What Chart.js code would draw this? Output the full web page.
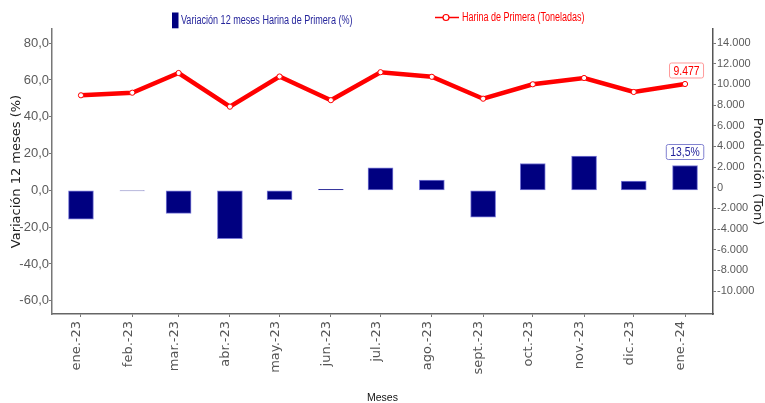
<!DOCTYPE html>
<html>
<head>
<meta charset="utf-8">
<script src="https://cdn.jsdelivr.net/npm/chart.js@4"></script>
<style>
  html, body { margin: 0; padding: 0; background: #fff; }
  #wrap { width: 765px; height: 403px; }
</style>
</head>
<body>
<div id="wrap"><canvas id="chart" width="765" height="403"></canvas></div>
<script>
// Data
const monthLabels = ['ene.-23', 'feb.-23', 'mar.-23', 'abr.-23', 'may.-23', 'jun.-23', 'jul.-23',
                     'ago.-23', 'sept.-23', 'oct.-23', 'nov.-23', 'dic.-23', 'ene.-24'];
const monthDates = ['2023-01-01', '2023-02-01', '2023-03-01', '2023-04-01', '2023-05-01', '2023-06-01',
                    '2023-07-01', '2023-08-01', '2023-09-01', '2023-10-01', '2023-11-01', '2023-12-01',
                    '2024-01-01'];
const variacion = [-15.7, -0.2, -12.5, -26.2, -5.1, 0.5, 12.3, 5.6, -14.6, 14.6, 18.6, 5.0, 13.5];
const produccion = [8383, 8634, 10542, 7280, 10203, 7908, 10619, 10174, 8054, 9448, 10058, 8702, 9477];
const leftTicks = [-60, -40, -20, 0, 20, 40, 60, 80];
const rightTicks = [-10000, -8000, -6000, -4000, -2000, 0, 2000, 4000, 6000, 8000, 10000, 12000, 14000];

const SANS = "'Liberation Sans', Arial, sans-serif";
const NAVY = '#000080';
const RED = '#ff0000';

// days since the first month, so months sit like on a date axis
const dayOf = d => (Date.parse(d) - Date.parse(monthDates[0])) / 86400000;
const xDays = monthDates.map(dayOf);

function thousands(v) {
    const s = String(Math.abs(v)).replace(/\B(?=(\d{3})+(?!\d))/g, '.');
    return (v < 0 ? '-' : '') + s;
}

// narrow-looking text: squeeze Liberation Sans horizontally
function narrowText(ctx, text, x, y, size, color, align, squeeze) {
    ctx.save();
    ctx.font = size + 'px ' + SANS;
    ctx.fillStyle = color;
    ctx.textBaseline = 'middle';
    ctx.textAlign = align || 'left';
    ctx.translate(x, y);
    ctx.scale(squeeze || 0.82, 1);
    ctx.fillText(text, 0, 0);
    ctx.restore();
}

// Legend and value boxes drawn on top
const extrasPlugin = {
    id: 'extras',
    afterDraw(chart) {
        const ctx = chart.ctx;
        ctx.save();

        // legend
        ctx.fillStyle = NAVY;
        ctx.fillRect(172, 12.5, 6.5, 15.8);
        narrowText(ctx, 'Variación 12 meses Harina de Primera (%)', 181, 21, 12, '#26269c', 'left', 0.755);

        ctx.strokeStyle = RED;
        ctx.lineWidth = 1.5;
        ctx.beginPath();
        ctx.moveTo(435, 17.5);
        ctx.lineTo(459, 17.5);
        ctx.stroke();
        ctx.beginPath();
        ctx.arc(446, 17.5, 3, 0, Math.PI * 2);
        ctx.fillStyle = '#fff';
        ctx.fill();
        ctx.lineWidth = 1.2;
        ctx.stroke();
        narrowText(ctx, 'Harina de Primera (Toneladas)', 462, 17.5, 12, RED, 'left', 0.75);

        // value labels on the last month
        const last = monthLabels.length - 1;
        const barEl = chart.getDatasetMeta(0).data[last];
        const ptEl = chart.getDatasetMeta(1).data[last];
        drawBox(ctx, thousands(produccion[last]), ptEl.x + 1.5, ptEl.y - 6, RED, '#ff9a9a');
        drawBox(ctx, variacion[last].toFixed(1).replace('.', ',') + '%', barEl.x, barEl.y - 6, '#22229a', '#8080d0');

        ctx.restore();
    }
};

function drawBox(ctx, text, cx, bottom, color, border) {
    ctx.font = '13px ' + SANS;
    const w = ctx.measureText(text).width * 0.8 + 8;
    const h = 15;
    const x = cx - w / 2;
    const y = bottom - h;
    ctx.beginPath();
    ctx.roundRect(x, y, w, h, 2);
    ctx.fillStyle = '#fff';
    ctx.fill();
    ctx.strokeStyle = border;
    ctx.lineWidth = 1;
    ctx.stroke();
    narrowText(ctx, text, cx, y + h / 2 + 0.5, 13, color, 'center', 0.8);
}

const ctx = document.getElementById('chart').getContext('2d');
new Chart(ctx, {
    type: 'bar',
    data: {
        datasets: [
            {
                type: 'bar',
                label: 'Variación 12 meses Harina de Primera (%)',
                data: xDays.map((x, i) => ({ x, y: variacion[i] })),
                backgroundColor: NAVY,
                borderColor: '#7a7ad6',
                borderWidth: 1,
                borderSkipped: false,
                barThickness: 25,
                yAxisID: 'y',
                order: 2
            },
            {
                type: 'line',
                label: 'Harina de Primera (Toneladas)',
                data: xDays.map((x, i) => ({ x, y: produccion[i] })),
                borderColor: RED,
                borderWidth: 4.5,
                pointRadius: 2.6,
                pointBackgroundColor: '#fff',
                pointBorderColor: RED,
                pointBorderWidth: 1,
                tension: 0,
                yAxisID: 'yLine',
                order: 1
            }
        ]
    },
    options: {
        responsive: false,
        animation: false,
        layout: { padding: { top: 29, left: 0, right: 0, bottom: 0 } },
        plugins: {
            legend: { display: false },
            tooltip: { enabled: false }
        },
        scales: {
            x: {
                type: 'linear',
                min: -17.5,
                max: 381.9,
                offset: false,
                afterBuildTicks: scale => { scale.ticks = xDays.map(v => ({ value: v })); },
                afterFit: scale => { scale.height = 89; },
                grid: { display: true, offset: false, drawOnChartArea: false, tickLength: 3, color: '#777' },
                border: { color: '#666', width: 1.5 },
                ticks: {
                    autoSkip: false,
                    minRotation: 90,
                    maxRotation: 90,
                    padding: 4,
                    labelOffset: -4,
                    color: '#555',
                    font: { family: "'DejaVu Sans'", size: 13 },
                    callback: (v, i) => monthLabels[i]
                },
                title: {
                    display: true,
                    text: 'Meses',
                    color: '#111',
                    padding: 0,
                    font: { family: SANS, size: 10.5, lineHeight: 1 }
                }
            },
            y: {
                position: 'left',
                min: -67.2,
                max: 87.7,
                afterBuildTicks: scale => { scale.ticks = leftTicks.map(v => ({ value: v })); },
                afterFit: scale => { scale.width = 52; },
                grid: { display: true, drawOnChartArea: false, tickLength: 3, color: '#777' },
                border: { color: '#777', width: 1.5 },
                ticks: {
                    padding: 0,
                    color: '#5a5a5a',
                    font: { family: SANS, size: 13 },
                    callback: v => v.toFixed(1).replace('.', ',')
                },
                title: {
                    display: true,
                    text: 'Variación 12 meses (%)',
                    color: '#222',
                    padding: { top: 9, bottom: 0 },
                    font: { family: "'DejaVu Sans'", size: 13 }
                }
            },
            yRight: {
                position: 'right',
                min: -12226,
                max: 15363,
                afterBuildTicks: scale => { scale.ticks = rightTicks.map(v => ({ value: v })); },
                afterFit: scale => { scale.width = 52; },
                grid: { display: true, drawOnChartArea: false, tickLength: 3, color: '#777' },
                border: { color: '#555', width: 1.5 },
                ticks: {
                    padding: 1,
                    color: '#5a5a5a',
                    font: { family: SANS, size: 11 },
                    callback: v => thousands(v)
                },
                title: {
                    display: true,
                    text: 'Producción (Ton)',
                    color: '#222',
                    padding: { top: 0, bottom: 0 },
                    font: { family: "'DejaVu Sans'", size: 13 }
                }
            },
            yLine: {
                display: false,
                min: -12788,
                max: 14801
            }
        }
    },
    plugins: [extrasPlugin]
});
</script>
</body>
</html>
